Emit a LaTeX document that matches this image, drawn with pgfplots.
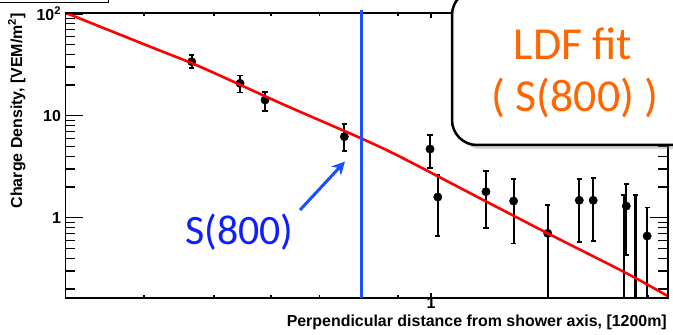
\documentclass[border=0pt]{standalone}
\usepackage{pgfplots}
\pgfplotsset{compat=1.18}
\usepackage{pgfplotstable}
\usepackage{fontspec}
\setmainfont{Liberation Sans}
\newfontfamily\calfont{Carlito}
\usetikzlibrary{arrows.meta,shadows}
\definecolor{lineblue}{RGB}{25,80,255}
\definecolor{txtblue}{RGB}{15,30,255}
\definecolor{ldforange}{RGB}{255,102,0}
\definecolor{fitred}{RGB}{255,0,0}

\pgfplotstableread{
x      y      ep    em
0.4657 33.96  5.54  4.66
0.5434 20.8   4.0   3.9
0.5886 14.3   2.7   3.1
0.7583 6.24   2.12  1.70
0.997  4.72   1.72  1.67
1.022  1.596  1.02  0.93
1.192  1.80   1.07  1.00
1.302  1.458  0.95  0.90
1.452  0.703  0.63  0.60
1.606  1.482  0.93  0.905
1.679  1.482  0.99  0.887
1.852  0.10   1.57  0.0
1.866  1.30   0.83  0.87
1.922  0.10   1.57  0.0
1.995  0.661  0.60  0.56
}\datatab

\pgfplotstableread{
x      y
0.3112 102.5
0.4076 47.7
0.4783 30.3
0.6200 13.2
0.7996 6.02
0.906  3.97
1.150  1.65
1.452  0.703
1.868  0.285
2.132  0.170
}\fittab

\begin{document}
\begin{tikzpicture}
\useasboundingbox (0bp,0bp) rectangle (673bp,335bp);
\begin{axis}[
  xmode=log, ymode=log, scale only axis,
  width=602.5bp, height=285bp,
  at={(65.5bp,37bp)}, anchor=south west,
  xmin=0.3112, xmax=2.132, ymin=0.1631, ymax=102,
  axis line style={line width=1.4bp, black},
  tick style={line width=1.4bp, black},
  tick align=inside,
  tick label style={font=\bfseries\fontsize{16}{16}\selectfont},
  xtick=\empty,
  ytick={1,10,100}, yticklabels={1,10,10\textsuperscript{2}},
  minor ytick={0.2,0.3,0.4,0.5,0.6,0.7,0.8,0.9,2,3,4,5,6,7,8,9,20,30,40,50,60,70,80,90},
  major tick length=18bp, minor tick length=10bp,
  yticklabel style={xshift=-1bp},
  clip marker paths=true,
]
\addplot[only marks, mark=*, mark size=4.2bp, black,
  error bars/.cd, y dir=both, y explicit,
  error bar style={line width=2.2bp, black},
  error mark options={rotate=90, mark size=2.6bp, line width=1.8bp, black}]
  table[x=x, y=y, y error plus=ep, y error minus=em] {\datatab};
\addplot[fitred, line width=2.6bp, no marks, smooth] table[x=x,y=y] {\fittab};
\end{axis}
\begin{axis}[
  xmode=log, ymode=log, scale only axis,
  width=602.5bp, height=285bp,
  at={(65.5bp,37bp)}, anchor=south west,
  xmin=0.3112, xmax=2.132, ymin=0.1631, ymax=102,
  axis line style={line width=1.4bp, black},
  tick style={line width=1.4bp, black},
  tick align=inside,
  tick label style={font=\bfseries\fontsize{16}{16}\selectfont},
  ytick=\empty,
  xtick={1}, xticklabels={1},
  minor xtick={0.4,0.5,0.6,0.7,0.8,0.9,2},
  major tick length=5bp, minor tick length=3bp,
  xticklabel style={inner sep=0pt, yshift=1bp},
  clip=false,
]
\addplot[lineblue, line width=3bp, no marks] coordinates {(0.8,0.1631) (0.8,110)};
\end{axis}
\node[rotate=90, anchor=base east, inner sep=0pt, font=\bfseries\fontsize{16}{16}\selectfont] at (22bp,322bp) {Charge Density, [VEM/m\textsuperscript{2}]};
\node[anchor=base east, inner sep=0pt, font=\bfseries\fontsize{16}{16}\selectfont] at (667bp,8.5bp) {Perpendicular distance from shower axis, [1200m]};
\draw[line width=1.3bp] (-2bp,332.5bp) -- (108.3bp,332.5bp) -- (108.3bp,340bp);
\draw[line width=2.5bp, rounded corners=25bp, fill=white,
  drop shadow={shadow xshift=4bp, shadow yshift=-4bp, opacity=0.35}] (452bp,190bp) rectangle (720bp,345bp);
\node[ldforange, anchor=base, inner sep=0pt, font=\calfont\fontsize{46}{46}\selectfont] at (573bp,275bp) {LDF fit};
\node[ldforange, anchor=base, inner sep=0pt, font=\calfont\fontsize{46}{46}\selectfont] at (575bp,223bp) {( S(800) )};
\node[txtblue, anchor=base west, inner sep=0pt, font=\calfont\fontsize{42}{42}\selectfont] at (185bp,90bp) {S(800)};
\draw[lineblue, line width=3bp, -{Stealth[length=13bp,width=13bp]}] (300bp,125bp) -- (345bp,173.5bp);
\end{tikzpicture}
\end{document}
